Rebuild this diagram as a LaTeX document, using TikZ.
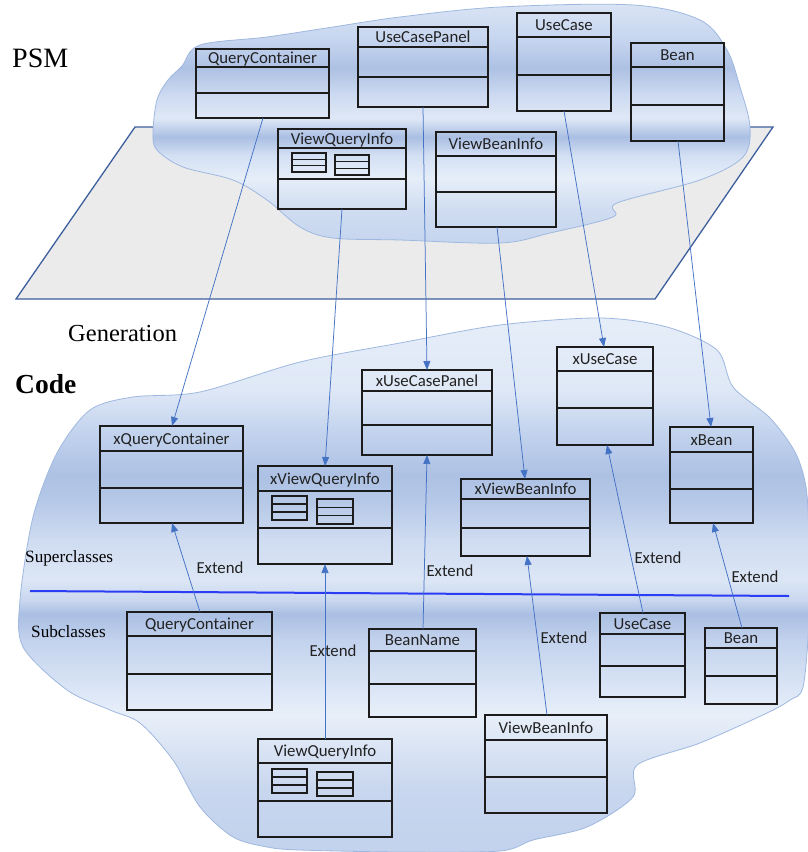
\documentclass[tikz,border=0pt]{standalone}
\usepackage{fontspec}
\newfontfamily\calfont{Carlito}
\newfontfamily\labelfont{Liberation Serif}
\usetikzlibrary{arrows.meta,calc}

\definecolor{boxline}{HTML}{1C1C1C}
\definecolor{txt}{HTML}{222222}
\definecolor{arrowblue}{HTML}{4472C4}
\definecolor{sepblue}{HTML}{2B3CF5}
\definecolor{planefill}{HTML}{EBEBEB}
\definecolor{planeline}{HTML}{3D5F9E}
\definecolor{cloudline}{HTML}{9FB8E0}

% band colours of the two clouds
\definecolor{bA}{HTML}{DBE5F5}
\definecolor{bB}{HTML}{C6D5EF}
\definecolor{bC}{HTML}{ADC1E4}
\definecolor{bD}{HTML}{CDDAF1}
\definecolor{bE}{HTML}{DFE8F6}
\definecolor{bF}{HTML}{AABFE3}
\definecolor{bG}{HTML}{D3DFF3}
\definecolor{bH}{HTML}{E6EEF9}
\definecolor{bI}{HTML}{CFDCF1}
\definecolor{bJ}{HTML}{C4D4EE}
\definecolor{bK}{HTML}{B5C8E7}
\definecolor{bL}{HTML}{DCE6F5}
\definecolor{bM}{HTML}{C9D7EF}
\definecolor{bN}{HTML}{C3D2ED}
\definecolor{bO}{HTML}{D6E2F4}
\definecolor{bP}{HTML}{E8EFF9}
\definecolor{bQ}{HTML}{C8D6EE}
\definecolor{bR}{HTML}{C2D2ED}

% outlines of the two model clouds
\newcommand{\psmcloudpath}{plot[smooth cycle, tension=0.55] coordinates {
  (157,100) (168,80) (182,66) (200,45) (267,37) (333,27) (400,17) (500,7)
  (633,5) (700,20) (727,50) (740,87) (750,127) (743,157) (700,180) (617,203)
  (613,217) (550,233) (500,243) (400,240) (333,238) (300,227) (267,200)
  (233,180) (183,167) (157,150) (153,133)}}
\newcommand{\codecloudpath}{plot[smooth cycle, tension=0.5] coordinates {
  (20,600) (33,517) (57,453) (90,410) (133,397) (200,392) (300,362) (400,343)
  (500,325) (600,318) (667,327) (717,350) (733,387) (770,418) (795,452)
  (806,487) (809,540) (809,620) (803,687) (790,700) (767,713) (700,743)
  (637,765) (633,797) (587,827) (533,840) (500,851) (400,852) (300,850)
  (267,847) (233,837) (200,807) (173,760) (140,723) (110,710) (67,690)
  (23,647)}}

% class box: name, x1, y1, x2, y2, header line y, separator y, title
\newcommand{\umlclass}[8]{%
  \node[classbox, anchor=north west, minimum width={#4-#2},
        minimum height={#5-#3}] (#1) at (#2,#3) {};
  \draw[classline] (#2,#6) -- (#4,#6);
  \draw[classline] (#2,#7) -- (#4,#7);
  \node[classname, anchor=base] (#1-title) at ({(#2+#4)/2},{(#3+#6)/2+5.5}) {#8};
}
% small table glyph inside a compartment
\newcommand{\tblicon}[4]{%
  \draw[iconline] (#1,#2) rectangle (#3,#4);
  \draw[iconline] (#1,{#2+(#4-#2)/3}) -- (#3,{#2+(#4-#2)/3});
  \draw[iconline] (#1,{#2+2*(#4-#2)/3}) -- (#3,{#2+2*(#4-#2)/3});
}

\begin{document}
\begin{tikzpicture}[x=1pt, y=-1pt,
  classbox/.style={draw=boxline, line width=1.6pt, inner sep=0pt, outer sep=0pt},
  classline/.style={draw=boxline, line width=1.4pt},
  iconline/.style={draw=boxline, line width=1.3pt},
  classname/.style={font=\calfont\fontsize{16.8}{19}\selectfont, text=txt, inner sep=0pt},
  extlabel/.style={font=\calfont\fontsize{16.8}{19}\selectfont, text=txt, inner sep=0pt, anchor=base},
  seriflabel/.style={text=black, inner sep=0pt, anchor=base west},
  conn/.style={draw=arrowblue, line width=0.75pt, -{Triangle[length=9pt,width=7pt]}},
  band/.style={draw=none},
  cloudedge/.style={draw=cloudline, line width=0.8pt}]

\useasboundingbox (0,0) rectangle (807,852);
\fill[white] (0,0) rectangle (807,852);

% ---- PSM plane ----
\draw[fill=planefill, draw=planeline, line width=1.3pt, line join=miter]
  (135,127) -- (773,127) -- (655,299) -- (16,299) -- cycle;

% ---- PSM cloud with horizontal light bands ----
\begin{scope}
  \clip \psmcloudpath;
  \foreach \ya/\ca/\yb/\cb in {0/bA/40/bB, 40/bB/68/bC, 68/bC/95/bD, 95/bD/118/bE,
      118/bE/137/bF, 137/bF/155/bG, 155/bG/178/bH, 178/bH/210/bI, 210/bI/250/bJ}
    \shade[band, top color=\ca, bottom color=\cb] (140,\ya) rectangle (760,\yb);
\end{scope}
\draw[cloudedge] \psmcloudpath;

% ---- Code cloud with horizontal light bands ----
\begin{scope}
  \clip \codecloudpath;
  \foreach \ya/\ca/\yb/\cb in {310/bH/390/bE, 390/bE/430/bJ, 430/bJ/475/bC,
      475/bC/500/bK, 500/bK/540/bI, 540/bI/580/bL, 580/bL/600/bM, 600/bM/614/bF,
      614/bF/640/bN, 640/bN/680/bO, 680/bO/715/bP, 715/bP/790/bQ, 790/bQ/855/bR}
    \shade[band, top color=\ca, bottom color=\cb] (0,\ya) rectangle (810,\yb);
\end{scope}
\draw[cloudedge] \codecloudpath;

% ---- layer labels ----
\node[seriflabel, font=\labelfont\fontsize{28}{32}\selectfont] (psm) at (12,67) {PSM};
\node[seriflabel, font=\labelfont\bfseries\fontsize{27.5}{32}\selectfont] (code) at (15,393) {Code};
\node[seriflabel, font=\labelfont\fontsize{24.5}{28}\selectfont] (gen) at (68,341) {Generation};
\node[seriflabel, font=\labelfont\fontsize{17.2}{20}\selectfont] (sup) at (25,562) {Superclasses};
\node[seriflabel, font=\labelfont\fontsize{17.2}{20}\selectfont] (sub) at (31,637) {Subclasses};

% ---- superclass / subclass divider ----
\draw[draw=sepblue, line width=2pt] (30,591) -- (789,596);

% ---- PSM classes ----
\umlclass{pqc}{196}{49}{329}{118}{67}{93}{QueryContainer}
\umlclass{pucp}{358}{27}{488}{107}{47}{77}{UseCasePanel}
\umlclass{puc}{517}{13}{611}{111}{37}{75}{UseCase}
\umlclass{pbean}{631}{43}{724}{141}{67}{105}{Bean}
\umlclass{pvqi}{278}{129}{406}{209}{148}{179}{ViewQueryInfo}
\tblicon{292}{153}{326}{172}
\tblicon{335}{155}{369}{175}
\umlclass{pvbi}{436}{132}{556}{227}{156}{192}{ViewBeanInfo}

% ---- generated superclasses ----
\umlclass{cqc}{100}{426}{243}{523}{451}{488}{xQueryContainer}
\umlclass{cvqi}{258}{466}{392}{564}{491}{528}{xViewQueryInfo}
\tblicon{272}{496}{307}{520}
\tblicon{317}{499}{353}{524}
\umlclass{cucp}{362}{370}{492}{455}{391}{425}{xUseCasePanel}
\umlclass{cuc}{557}{347}{653}{445}{371}{408}{xUseCase}
\umlclass{cbean}{670}{427}{753}{523}{452}{489}{xBean}
\umlclass{cvbi}{461}{479}{590}{556}{499}{528}{xViewBeanInfo}

% ---- hand-written subclasses ----
\umlclass{sqc}{127}{612}{272}{710}{636}{674}{QueryContainer}
\umlclass{sbn}{369}{629}{476}{717}{651}{684}{BeanName}
\umlclass{svqi}{258}{739}{392}{837}{763}{801}{ViewQueryInfo}
\tblicon{272}{769}{307}{793}
\tblicon{317}{772}{353}{796}
\umlclass{svbi}{485}{715}{607}{813}{740}{777}{ViewBeanInfo}
\umlclass{suc}{600}{613}{685}{697}{634}{666}{UseCase}
\umlclass{sbean}{705}{628}{777}{704}{648}{676}{Bean}

% ---- generation arrows ----
\draw[conn] ([xshift=67pt]pqc.south west) -- ([xshift=72pt]cqc.north west);
\draw[conn] ([xshift=64pt]pvqi.south west) -- ([xshift=67pt]cvqi.north west);
\draw[conn] ([xshift=65pt]pucp.south west) -- ([xshift=65pt]cucp.north west);
\draw[conn] ([xshift=61pt]pvbi.south west) -- ([xshift=64pt]cvbi.north west);
\draw[conn] ([xshift=47pt]puc.south west) -- ([xshift=47pt]cuc.north west);
\draw[conn] ([xshift=47pt]pbean.south west) -- ([xshift=41pt]cbean.north west);

% ---- extend arrows ----
\draw[conn] ([xshift=73pt]sqc.north west) -- ([xshift=72pt]cqc.south west);
\draw[conn] ([xshift=67pt]svqi.north west) -- ([xshift=67pt]cvqi.south west);
\draw[conn] ([xshift=54pt]sbn.north west) -- ([xshift=65pt]cucp.south west);
\draw[conn] ([xshift=62pt]svbi.north west) -- ([xshift=66pt]cvbi.south west);
\draw[conn] ([xshift=43pt]suc.north west) -- ([xshift=50pt]cuc.south west);
\draw[conn] ([xshift=37pt]sbean.north west) -- ([xshift=43pt]cbean.south west);

\node[extlabel] (e1) at (220,573) {Extend};
\node[extlabel] (e2) at (333,656) {Extend};
\node[extlabel] (e3) at (450,576) {Extend};
\node[extlabel] (e4) at (564,643) {Extend};
\node[extlabel] (e5) at (658,563) {Extend};
\node[extlabel] (e6) at (755,582) {Extend};

\end{tikzpicture}
\end{document}
